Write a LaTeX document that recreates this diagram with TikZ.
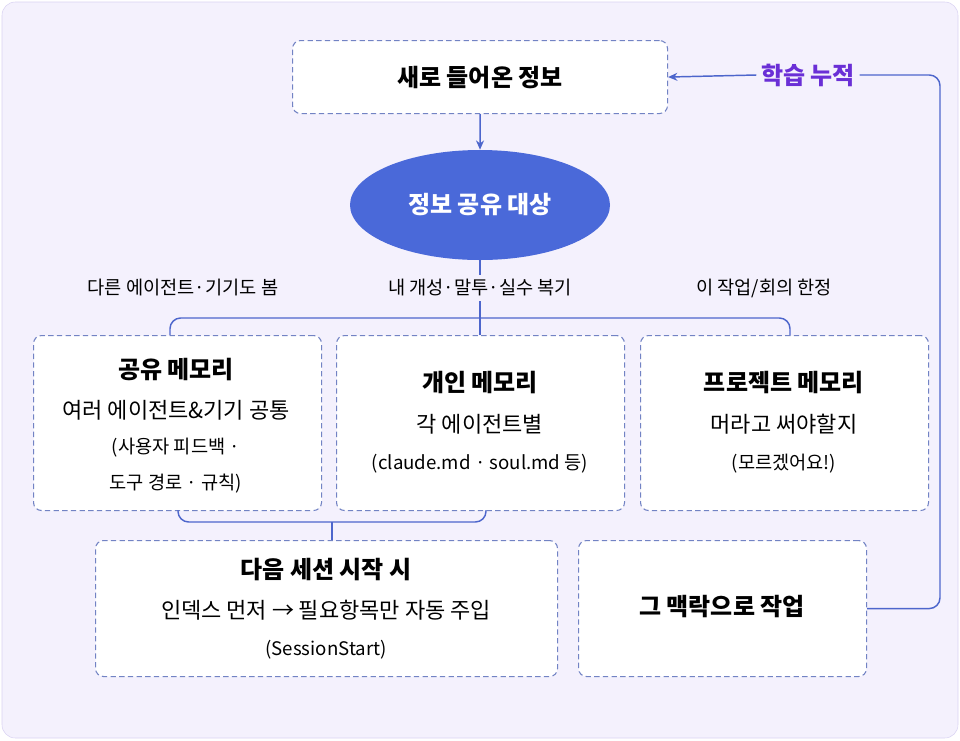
\documentclass[tikz,border=0pt]{standalone}
\usepackage{fontspec}
\setmainfont{Noto Sans CJK KR}
\usetikzlibrary{shapes.geometric,arrows.meta}
\definecolor{bgfill}{HTML}{F4F1FD}
\definecolor{bgline}{HTML}{D9D2F2}
\definecolor{boxline}{HTML}{7283C4}
\definecolor{linkcol}{HTML}{4D66CC}
\definecolor{ovalfill}{HTML}{4A69D9}
\definecolor{learncol}{HTML}{6A2FD6}
\begin{document}
\begin{tikzpicture}[x=0.75pt,y=-0.75pt,>={Stealth[length=7pt,width=6pt]}]
  \tikzstyle{memo}=[draw=boxline,dash pattern=on 4pt off 2.5pt,fill=white,rounded corners=6pt,line width=0.8pt,anchor=north west,inner sep=0pt]
  \tikzstyle{link}=[draw=linkcol,line width=1.1pt]
  \tikzstyle{ttl}=[font=\fontsize{18}{22}\selectfont\bfseries]
  \tikzstyle{txt}=[font=\fontsize{16.5}{20}\selectfont]
  \tikzstyle{sml}=[font=\fontsize{14}{17}\selectfont]

  % background
  \useasboundingbox (0,0) rectangle (960,740);
  \draw[fill=bgfill,draw=bgline,rounded corners=10pt] (2,2) rectangle (958,738);

  % boxes
  \node[memo,minimum width=375*0.75pt,minimum height=73*0.75pt] (new) at (292,40) {};
  \node[ttl] at (new.center) {새로 들어온 정보};
  \node[ellipse,fill=ovalfill,minimum width=260*0.75pt,minimum height=110*0.75pt,text=white,ttl] (share) at (480,205) {정보 공유 대상};
  \foreach \name/\x in {shm/33,own/336,prj/640}
    \node[memo,minimum width=288*0.75pt,minimum height=175*0.75pt] (\name) at (\x,335) {};
  \node[memo,minimum width=462*0.75pt,minimum height=136*0.75pt] (next) at (95,540) {};
  \node[memo,minimum width=288*0.75pt,minimum height=136*0.75pt] (work) at (578,540) {};

  % texts
  \node[ttl] at (176,370) {공유 메모리};
  \node[txt] at (176,410) {여러 에이전트\&기기 공통};
  \node[sml] at (176,448) {(사용자 피드백 ·};
  \node[sml] at (176,484) {도구 경로 · 규칙)};
  \node[ttl] at (480,383) {개인 메모리};
  \node[txt] at (480,424) {각 에이전트별};
  \node[sml] at (480,464) {(claude.md · soul.md 등)};
  \node[ttl] at (784,383) {프로젝트 메모리};
  \node[txt] at (784,424) {머라고 써야할지};
  \node[sml] at (784,464) {(모르겠어요!)};
  \node[ttl] at (326,570) {다음 세션 시작 시};
  \node[txt] at (326,610) {인덱스 먼저 → 필요항목만 자동 주입};
  \node[sml] at (326,650) {(SessionStart)};
  \node[ttl] at (722,607) {그 맥락으로 작업};

  % branch labels
  \node[sml] (lshm) at (183,288) {다른 에이전트·기기도 봄};
  \node[sml,fill=bgfill] (lown) at (480,288) {내 개성·말투·실수 복기};
  \node[sml] (lprj) at (764,288) {이 작업/회의 한정};
  \node[ttl,text=learncol] (learn) at (808,75) {학습 누적};

  % connectors
  \draw[link,->] (new) -- (share);
  \draw[link] (share.south) -- (lown.north);
  \coordinate (bl) at (170,318);
  \coordinate (br) at (790,318);
  \draw[link,rounded corners=8pt] (170,335) -- (bl) -- (br) -- (790,335);
  \draw[link] (lown.south) -- (own.north -| lown.south);
  \coordinate (jn) at (332,522);
  \draw[link,rounded corners=8pt] (178,510) -- (178,522) -- (486,522) -- (486,510);
  \draw[link] (jn) -- (next.north -| jn);
  \coordinate (fb) at (940,0);
  \draw[link,rounded corners=8pt] (work.east) -- (work.east -| fb) -- (940,75) -- (learn.east);
  \draw[link,->] (learn.west) -- (new.east);
\end{tikzpicture}
\end{document}
